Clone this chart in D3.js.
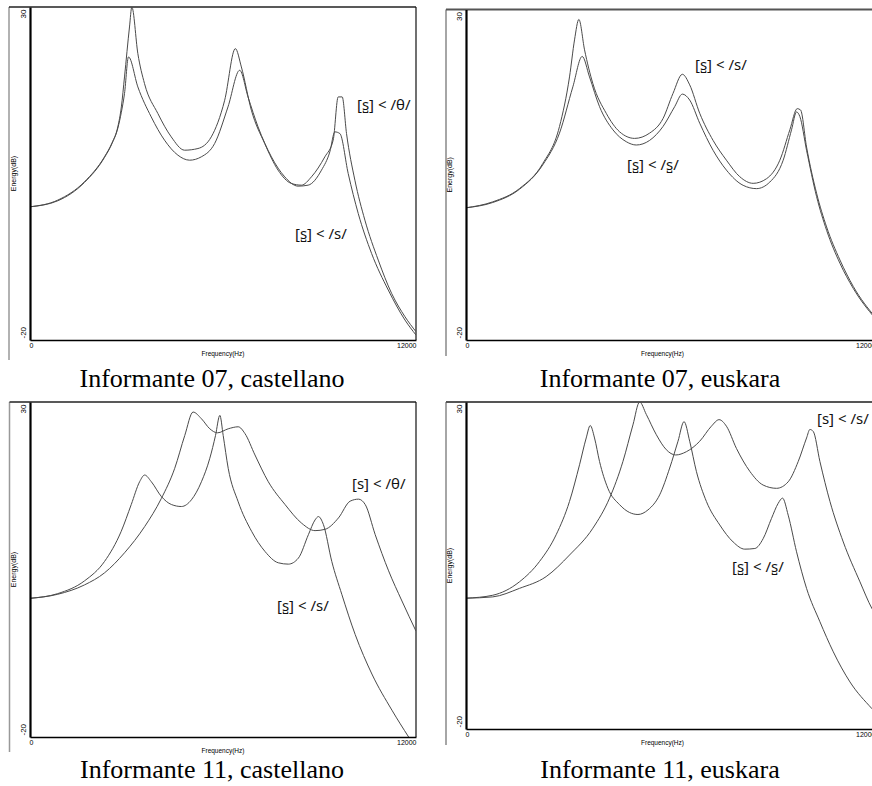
<!DOCTYPE html>
<html><head><meta charset="utf-8">
<script src="https://cdn.jsdelivr.net/npm/d3@7"></script>
<style>body{margin:0;background:#fff}svg{display:block}</style>
</head><body><svg id="c" width="872" height="786"></svg>
<script>
// ---------- data (frequency in Hz, energy in dB) ----------
const freqTicks = [0, 12000];
const freqTickLabels = ["0", "12000"];
const energyTicks = [30, -20];
const energyTickLabels = ["30", "-20"];
const captions = ["Informante 07, castellano", "Informante 07, euskara", "Informante 11, castellano", "Informante 11, euskara"];

const cast07_theta = [[0,0],[862,1.0],[1692,3.75],[2315,7.5],[2550,9.6],[2730,12],[2840,15],[2938,19.5],[3093,27],[3166,30],[3353,23],[3560,18.5],[3976,14],[4391,10.5],[4806,8.5],[5221,8.75],[5636,10.5],[6052,16],[6384,23.75],[6571,21],[6882,14.5],[7297,9.5],[7712,5.5],[8128,3.5],[8439,3.25],[8750,4.5],[9166,7.5],[9425,10],[9581,16.5],[9705,16.5],[9840,11],[10100,4],[10411,-2],[10826,-8],[11242,-13],[11657,-16.5],[12000,-18.75]];
const cast07_s = [[0,0],[862,0.9],[1692,3.65],[2315,7.4],[2550,9.5],[2730,11.8],[2840,14.2],[2938,17],[3062,22.5],[3353,18],[3768,13.5],[4183,10],[4598,7.75],[4962,7],[5325,7.5],[5740,9.5],[6155,15],[6519,20.5],[6778,16.5],[7090,12],[7505,7.5],[7920,4.5],[8335,3.1],[8647,3.25],[9062,5.5],[9321,8.25],[9477,11.25],[9633,11],[9892,5],[10204,-1],[10619,-7],[11138,-12.5],[11657,-17],[12000,-19.25]];

const eusk07_s = [[0,0],[784,0.9],[1567,2.9],[2253,6.7],[2743,12.3],[3037,19.8],[3184,25.4],[3311,28.5],[3478,23.9],[3722,18.8],[4114,14.3],[4506,11.5],[4947,10.5],[5388,11.3],[5780,13.5],[6073,17.3],[6348,20.2],[6563,18.6],[6857,14.3],[7249,10.2],[7641,7.2],[8033,4.7],[8425,3.7],[8817,4.4],[9208,7.2],[9502,11.8],[9718,15.0],[9816,14.8],[9992,9.2],[10286,2.2],[10580,-2.9],[10972,-7.9],[11363,-11.9],[12000,-16.5]];
const eusk07_sr = [[0,0],[784,0.8],[1567,2.8],[2253,6.5],[2743,11.3],[3135,18.3],[3409,22.9],[3624,19.8],[3918,15.3],[4310,11.8],[4702,10.0],[4996,9.5],[5388,10.2],[5780,12.3],[6122,15.3],[6348,17.2],[6563,16.3],[6857,12.8],[7249,8.7],[7641,5.7],[8131,3.4],[8523,2.9],[8915,3.9],[9306,7.2],[9551,11.8],[9698,14.5],[9796,13.8],[9992,8.7],[10286,1.7],[10580,-3.4],[10972,-8.4],[11363,-12.2],[12000,-16.7]];

const cast11_s = [[0,0.7],[862,1.4],[1694,3.3],[2317,6.2],[2836,10.7],[3148,14.7],[3408,18.1],[3564,19.1],[3772,18.1],[4083,15.9],[4395,14.7],[4707,14.4],[5018,15.4],[5330,18.1],[5590,21.6],[5767,25.0],[5902,28.0],[6006,25.0],[6162,20.1],[6473,15.1],[6889,10.7],[7304,7.7],[7720,6.0],[8031,5.8],[8343,6.7],[8655,10.2],[8862,12.4],[8966,12.9],[9122,11.7],[9382,6.2],[9693,1.3],[10109,-4.7],[10629,-10.6],[11252,-16.0],[11771,-20]];
const cast11_theta = [[0,0.7],[862,1.3],[1694,2.7],[2317,4.5],[2940,7.5],[3564,11.4],[4083,15.6],[4499,20.1],[4811,25.0],[5070,28.5],[5330,27.5],[5590,26.0],[5829,25.4],[6162,26.0],[6473,26.3],[6681,25.3],[6993,22.1],[7408,18.1],[7928,14.7],[8447,11.9],[8862,10.8],[9174,11.0],[9590,12.7],[9953,15.2],[10213,15.5],[10421,14.7],[10732,10.2],[11148,4.8],[11563,0.3],[12000,-4.2]];

const eusk11_sr = [[0,0],[784,0.45],[1567,2.5],[2155,5.6],[2645,9.7],[3037,14.8],[3331,20.4],[3527,24.5],[3645,26.4],[3771,24.5],[3918,20.9],[4163,16.8],[4506,14.3],[4800,13.1],[5045,12.8],[5339,13.5],[5682,15.8],[5976,19.9],[6220,24.0],[6397,27.0],[6563,24.0],[6759,19.4],[7053,14.8],[7445,11.2],[7837,8.6],[8180,7.5],[8474,7.6],[8718,9.1],[8963,12.2],[9159,14.5],[9287,15.3],[9453,12.7],[9698,7.1],[9992,1.5],[10384,-3.6],[10776,-8.2],[11265,-12.8],[11912,-16.9],[12000,-17.4]];
const eusk11_s = [[0,0],[784,0.2],[1567,1.5],[2351,3.3],[3037,6.6],[3722,10.7],[4212,15.3],[4604,20.9],[4898,26.5],[5094,30],[5290,28.1],[5584,25.0],[5878,22.7],[6152,21.9],[6465,22.4],[6857,24.0],[7200,26.3],[7425,27.3],[7641,26.3],[7935,22.9],[8327,19.4],[8718,17.3],[9110,16.8],[9453,17.8],[9747,20.9],[9992,24.5],[10090,25.8],[10188,25.5],[10384,20.9],[10678,14.8],[11069,8.6],[11559,2.5],[11912,-1.6],[12000,-2.4]];

const labels07c = ["[s\u033A] < /\u03B8/", "[s\u033A] < /s/"];
const labels07e = ["[s\u033A] < /s/", "[s\u033A] < /s\u033A/"];
const labels11c = ["[s] < /\u03B8/", "[s\u033A] < /s/"];
const labels11e = ["[s] < /s/", "[s\u033A] < /s\u033A/"];

// ---------- layout ----------
const panels = [
  {series:[cast07_theta, cast07_s], labels:labels07c, labelPos:[[357,110],[295,239]], caption:captions[0],
   fl:9, x0:30, x1:416, yt:7, yb:340, fb:360, cx:212, cy:387, topCol:"#222", topW:1.3, flCol:"#999"},
  {series:[eusk07_s, eusk07_sr], labels:labels07e, labelPos:[[695,70],[627,170]], caption:captions[1],
   fl:446, x0:466, x1:875, yt:9.5, yb:340, fb:356, cx:660, cy:387, topCol:"#555", topW:2, flCol:"#888"},
  {series:[cast11_theta, cast11_s], labels:labels11c, labelPos:[[352,489],[277,611]], caption:captions[2],
   fl:9.5, x0:30, x1:416, yt:402, yb:737, fb:752, cx:212, cy:778, topCol:"#222", topW:1.3, flCol:"#999"},
  {series:[eusk11_s, eusk11_sr], labels:labels11e, labelPos:[[817,424],[732,572]], caption:captions[3],
   fl:446, x0:466, x1:875, yt:402, yb:729, fb:745, cx:660, cy:778, topCol:"#555", topW:2, flCol:"#888"}
];

const svg = d3.select("#c");
svg.append("rect").attr("width",872).attr("height",786).attr("fill","#fff");

panels.forEach((p,i)=>{
  const x = d3.scaleLinear().domain([0,12000]).range([p.x0,p.x1]);
  const y = d3.scaleLinear().domain([-20,30]).range([p.yb,p.yt]);
  const g = svg.append("g");

  // frame
  g.append("line").attr("x1",p.fl).attr("x2",p.fl).attr("y1",p.yt).attr("y2",p.fb)
    .attr("stroke",p.flCol).attr("stroke-width",1.5);
  g.append("line").attr("x1",p.fl).attr("x2",p.x1).attr("y1",p.yt).attr("y2",p.yt)
    .attr("stroke",p.topCol).attr("stroke-width",p.topW);
  g.append("line").attr("x1",p.x1).attr("x2",p.x1).attr("y1",p.yt).attr("y2",p.yb)
    .attr("stroke","#111").attr("stroke-width",1.2);

  // clip
  const cid = "clip"+i;
  svg.append("clipPath").attr("id",cid).append("rect")
    .attr("x",p.x0).attr("y",p.yt).attr("width",p.x1-p.x0).attr("height",p.yb-p.yt);

  // curves
  const line = d3.line().x(d=>x(d[0])).y(d=>y(d[1])).curve(d3.curveMonotoneX);
  p.series.forEach(s=>{
    g.append("path").attr("d",line(s)).attr("fill","none")
      .attr("stroke","#4a4a4a").attr("stroke-width",1).attr("clip-path",`url(#${cid})`);
  });

  // x axis
  const xa = g.append("g").attr("transform",`translate(0,${p.yb})`)
    .call(d3.axisBottom(x).tickValues(freqTicks).tickSize(0).tickPadding(3).tickFormat((d,k)=>freqTickLabels[k]));
  xa.select(".domain").attr("stroke","#000").attr("stroke-width",1.6);
  xa.selectAll("text").attr("font-family","Liberation Sans, Arial, sans-serif").attr("font-size",7).attr("fill","#000")
    .attr("text-anchor",(d,k)=>k===0?"start":"end").attr("dx",(d,k)=>k===0?-1:0);
  g.append("text").attr("x",(p.x0+p.x1)/2 - (i%2? 8:0)).attr("y",p.yb+16)
    .attr("text-anchor","middle").attr("font-family","Liberation Sans, Arial, sans-serif")
    .attr("font-size",6.5).text("Frequency(Hz)");

  // y axis
  const ya = g.append("g").attr("transform",`translate(${p.x0},0)`)
    .call(d3.axisLeft(y).tickValues(energyTicks).tickSize(0).tickFormat((d,k)=>energyTickLabels[k]));
  ya.select(".domain").attr("stroke","#000").attr("stroke-width",2.2);
  ya.selectAll(".tick text").attr("font-family","Liberation Sans, Arial, sans-serif").attr("font-size",8).attr("fill","#000")
    .attr("x",null).attr("dy",null)
    .attr("transform","translate(-4,0) rotate(-90)")
    .attr("text-anchor",(d,k)=>k===0?"end":"start")
    .attr("dx",(d,k)=>k===0?-2:2);
  g.append("text").attr("transform",`translate(${p.x0-14},${(p.yt+p.yb)/2}) rotate(-90)`)
    .attr("text-anchor","middle").attr("font-family","Liberation Sans, Arial, sans-serif")
    .attr("font-size",7).text("Energy(dB)");

  // curve labels
  p.labels.forEach((t,k)=>{
    g.append("text").attr("x",p.labelPos[k][0]).attr("y",p.labelPos[k][1])
      .attr("font-family","'Noto Sans', 'DejaVu Sans', sans-serif").attr("font-size",15).attr("fill","#111").text(t);
  });

  // caption
  svg.append("text").attr("x",p.cx).attr("y",p.cy).attr("text-anchor","middle")
    .attr("font-family","'Liberation Serif', 'Times New Roman', serif").attr("font-size",26).attr("fill","#000")
    .text(p.caption);
});
</script></body></html>
